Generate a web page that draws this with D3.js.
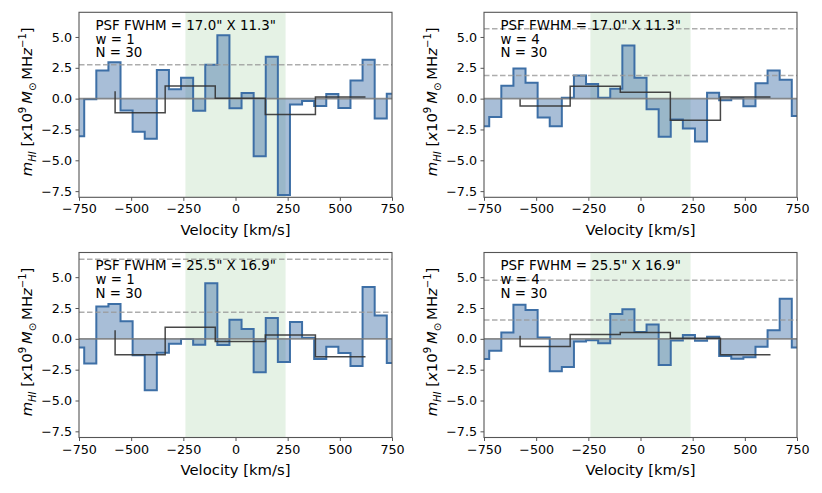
<!DOCTYPE html>
<html>
<head>
<meta charset="utf-8">
<script src="https://cdn.jsdelivr.net/npm/d3@7"></script>
<style>
  body { margin: 0; background: #fff; }
  svg text { font-family: "DejaVu Sans", sans-serif; fill: #000; }
</style>
</head>
<body>
<svg id="stack" width="822" height="493"></svg>
<script>
// stacked HI spectra, 4 panels (2 beam sizes x 2 smoothing widths)

// channel centres in km/s
const velocity = [-754, -696, -638, -580, -522, -464, -406, -348, -290, -232, -174, -116, -58, 0,
                  58, 116, 174, 232, 290, 348, 406, 464, 522, 580, 638, 696, 754];
// coarse (rebinned) velocity steps
const velocityBinned = [-577, -337, -97, 143, 383, 623];

// stacked mass spectra
const spec17w1 = [-3.04, -0.05, 2.28, 2.96, -0.96, -2.69, -3.25, 2.32, 0.77, 1.69, -0.99, 2.74, 5.13, -0.78,
                  0.46, -4.68, 3.39, -7.82, -0.48, -0.19, -0.59, 0.38, -0.75, 1.48, 3.15, -1.61, 0.4];
const spec17w4 = [-2.23, -1.48, 1.05, 2.45, 1.29, -1.53, -2.23, 0.08, 1.88, 1.18, 0.08, 0.81, 4.3, 1.69,
                  -0.86, -3.09, -1.69, -2.42, -3.47, 0.48, -0.13, 0.03, -0.62, 1.24, 2.28, 1.53, -1.4];
const spec25w1 = [-0.7, -2.01, 2.63, 2.82, 1.42, -1.34, -4.16, -1.13, -0.4, -0.02, -0.48, 4.5, -0.51, 1.55,
                  0.8, -2.71, 1.69, -1.88, 1.37, 0.08, -1.64, -0.64, -1.15, -2.2, 4.21, 1.9, -1.96];
const spec25w4 = [-1.64, -0.97, 0.51, 2.77, 2.34, 0.11, -2.63, -2.28, -0.22, -0.11, -0.35, 2.02, 2.39, 0.56,
                  1.16, -2.12, -0.13, 0.32, -0.16, 0.16, -1.39, -1.61, -1.5, -0.64, 0.7, 3.24, -0.7];

// rebinned spectra (black steps)
const binned17w1 = [0.6, -1.15, 1.03, 0.03, -1.29, 0.13];
const binned17w4 = [-0.05, -0.59, 1.0, 0.52, -1.75, 0.13];
const binned25w1 = [0.7, -1.29, 0.94, -0.21, 0.32, -1.45];
const binned25w4 = [0.24, -0.62, 0.35, 0.51, 0.05, -1.29];

// noise levels (dashed)
const limits17w1 = [2.74];
const limits17w4 = [5.67, 1.88];
const limits25w1 = [6.46, 2.15];
const limits25w4 = [4.75, 1.53];

const psfLabels = ['PSF FWHM = 17.0" X 11.3"', 'PSF FWHM = 25.5" X 16.9"'];
const widths = [1, 4];
const nStack = 30;

const xTicks = [-750, -500, -250, 0, 250, 500, 750];
const yTicks = [-7.5, -5.0, -2.5, 0.0, 2.5, 5.0];
const galaxyWindow = [-240, 240];

// layout
const plot = {w: 313, h: 185};
const panels = [
  {left: 79,  top: 12.3,  spec: spec17w1, binned: binned17w1, limits: limits17w1, psf: psfLabels[0], w: widths[0]},
  {left: 484, top: 12.3,  spec: spec17w4, binned: binned17w4, limits: limits17w4, psf: psfLabels[0], w: widths[1]},
  {left: 79,  top: 252.5, spec: spec25w1, binned: binned25w1, limits: limits25w1, psf: psfLabels[1], w: widths[0]},
  {left: 484, top: 252.5, spec: spec25w4, binned: binned25w4, limits: limits25w4, psf: psfLabels[1], w: widths[1]}
];

const blue = "#3d6fa6";
const spineCol = "#555";

const svg = d3.select("#stack");

const x = d3.scaleLinear().domain([-750, 750]).range([0, plot.w]);
const y = d3.scaleLinear().domain([-8, 7]).range([plot.h, 0]);

const specLine = d3.line().x((d, i) => x(velocity[i])).y(d => y(d)).curve(d3.curveStep);
const specArea = d3.area().x((d, i) => x(velocity[i])).y0(y(0)).y1(d => y(d)).curve(d3.curveStep);
const binLine = d3.line().x((d, i) => x(velocityBinned[i])).y(d => y(d)).curve(d3.curveStepBefore);

svg.append("defs").append("clipPath").attr("id", "plotclip")
  .append("rect").attr("width", plot.w).attr("height", plot.h);

panels.forEach(function(p) {
  const g = svg.append("g").attr("transform", `translate(${p.left},${p.top})`);
  const inner = g.append("g").attr("clip-path", "url(#plotclip)");

  // galaxy velocity window
  inner.append("rect")
    .attr("x", x(galaxyWindow[0]))
    .attr("width", x(galaxyWindow[1]) - x(galaxyWindow[0]))
    .attr("y", 0).attr("height", plot.h)
    .attr("fill", "green").attr("fill-opacity", 0.1);

  inner.append("path").datum(p.spec)
    .attr("d", specArea)
    .attr("fill", blue).attr("fill-opacity", 0.45);

  inner.append("path").datum(p.spec)
    .attr("d", specLine)
    .attr("fill", "none").attr("stroke", blue).attr("stroke-width", 2);

  // zero line
  inner.append("line")
    .attr("x1", 0).attr("x2", plot.w)
    .attr("y1", y(0)).attr("y2", y(0))
    .attr("stroke", "#7a7a7a").attr("stroke-width", 1.8).attr("stroke-opacity", 0.85);

  inner.append("path").datum(p.binned)
    .attr("d", binLine)
    .attr("fill", "none").attr("stroke", "#333").attr("stroke-width", 1.5).attr("stroke-opacity", 0.9);

  inner.selectAll("line.limit").data(p.limits).enter()
    .append("line").attr("class", "limit")
    .attr("x1", 0).attr("x2", plot.w)
    .attr("y1", d => y(d)).attr("y2", d => y(d))
    .attr("stroke", "#999").attr("stroke-width", 1.5).attr("stroke-opacity", 0.8)
    .attr("stroke-dasharray", "5.5,2.5");

  // annotation
  const note = [p.psf, "w = " + p.w, "N = " + nStack];
  g.selectAll("text.note").data(note).enter()
    .append("text").attr("class", "note")
    .attr("x", 16.5)
    .attr("y", (d, i) => 17.7 + i * 13.7)
    .attr("font-size", 13.4)
    .text(d => d);

  // axes
  const xa = g.append("g").attr("transform", `translate(0,${plot.h})`)
    .call(d3.axisBottom(x).tickValues(xTicks).tickSize(3.5).tickPadding(3.5).tickFormat(d3.format("d")));
  const ya = g.append("g")
    .call(d3.axisLeft(y).tickValues(yTicks).tickSize(3.5).tickPadding(3.5).tickFormat(d3.format(".1f")));
  [xa, ya].forEach(function(a) {
    a.select(".domain").remove();
    a.selectAll(".tick line").attr("stroke", spineCol);
    a.selectAll(".tick text").attr("font-size", 12.7).attr("font-family", "DejaVu Sans").attr("fill", "#000");
  });

  g.append("rect")
    .attr("width", plot.w).attr("height", plot.h)
    .attr("fill", "none").attr("stroke", spineCol).attr("stroke-width", 1.1);

  g.append("text")
    .attr("x", plot.w / 2).attr("y", plot.h + 37.5)
    .attr("text-anchor", "middle").attr("font-size", 14.8)
    .text("Velocity [km/s]");

  // y label with sub/superscripts
  const yl = g.append("text")
    .attr("transform", `translate(-47,${plot.h / 2 - 3}) rotate(-90)`)
    .attr("text-anchor", "middle").attr("font-size", 14.8);
  const parts = [
    {t: "m", it: true},
    {t: "HI", it: true, fs: 10, dy: 3.5},
    {t: " [", dy: -3.5},
    {t: "x", it: true},
    {t: "10"},
    {t: "9", fs: 10, dy: -6},
    {t: "\u2009", dy: 6},
    {t: "M", it: true},
    {t: "\u2299", fs: 10, dy: 3.5},
    {t: "\u2009MH", dy: -3.5},
    {t: "z", it: true},
    {t: "\u22121", fs: 10, dy: -6},
    {t: "]", dy: 6}
  ];
  parts.forEach(function(s) {
    const ts = yl.append("tspan").text(s.t);
    if (s.it) ts.attr("font-style", "italic");
    if (s.fs) ts.attr("font-size", s.fs);
    if (s.dy) ts.attr("dy", s.dy);
  });
});
</script>
</body>
</html>
